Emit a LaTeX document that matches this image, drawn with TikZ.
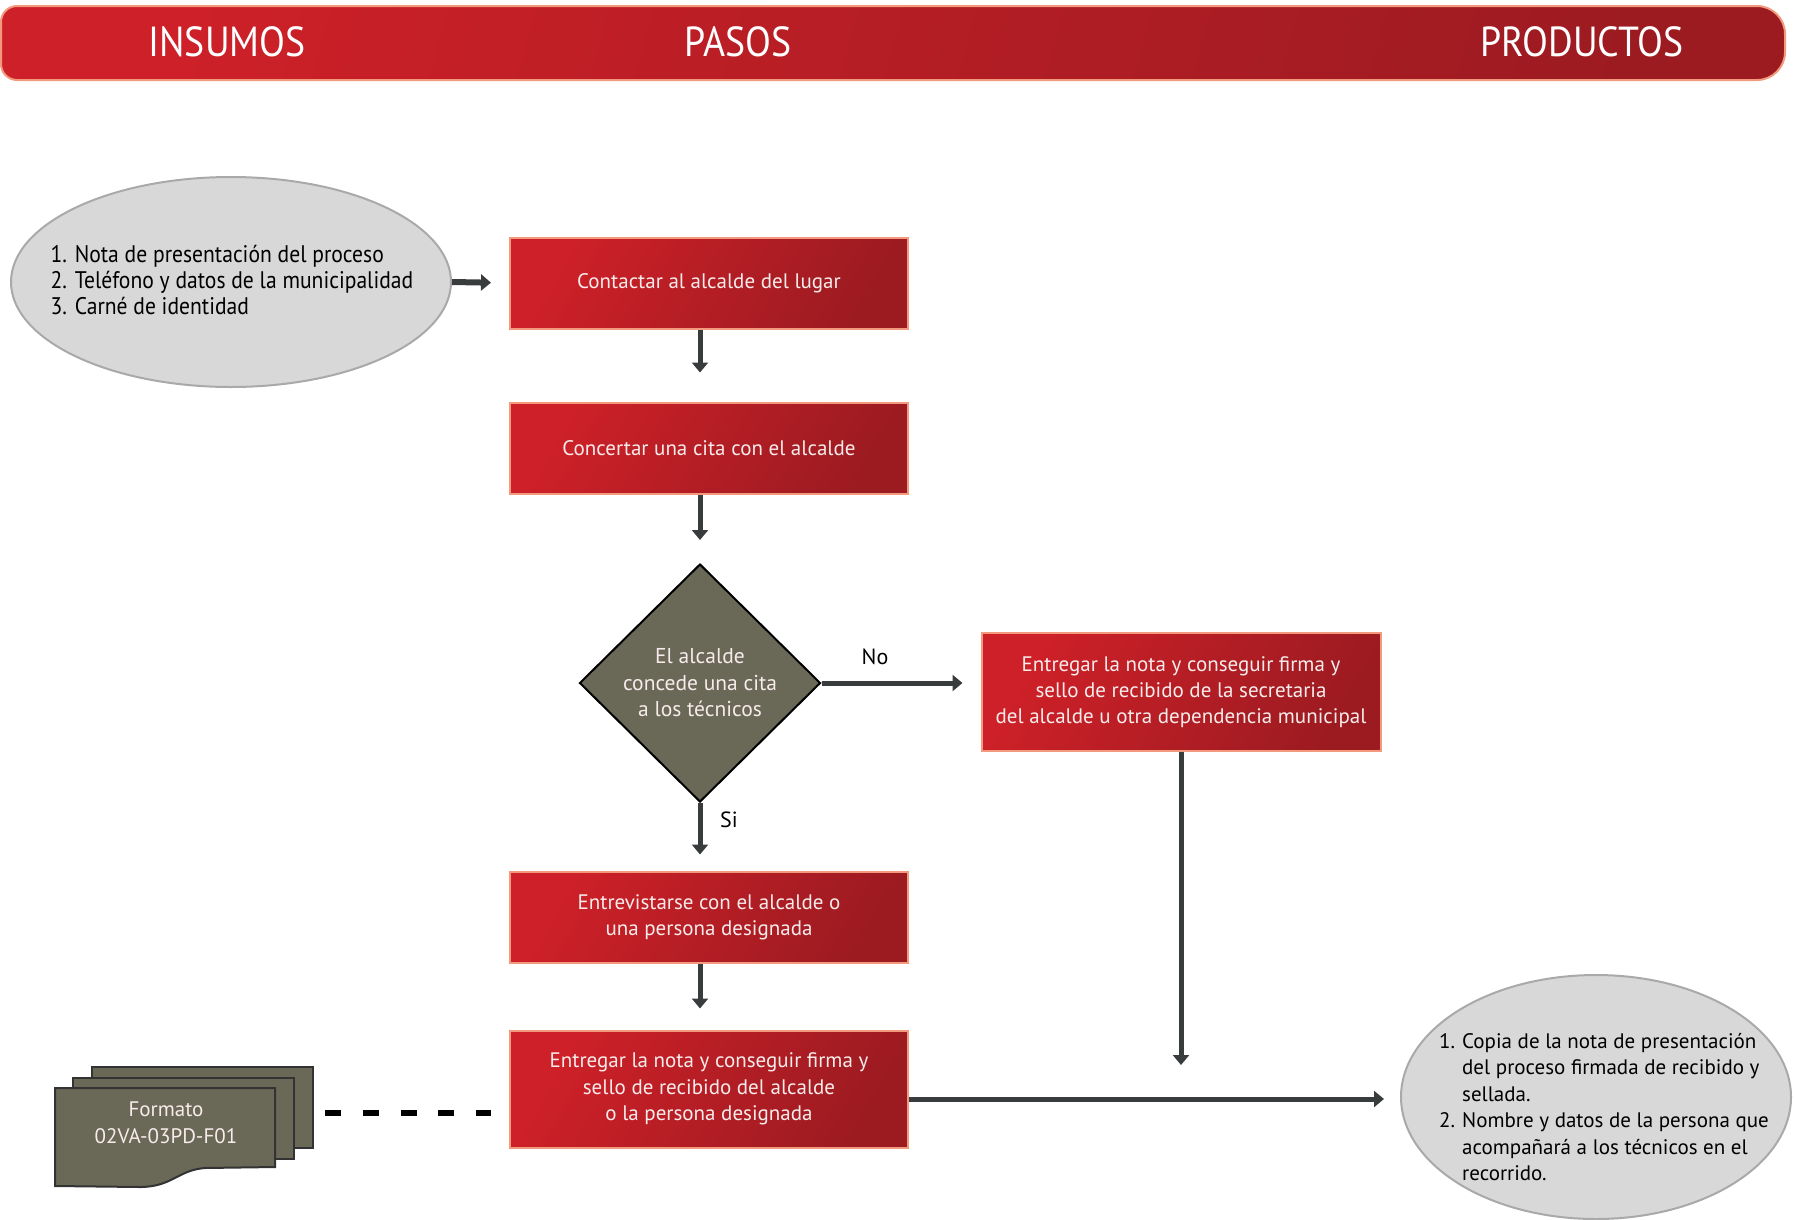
\documentclass[tikz,border=0pt]{standalone}
\usepackage{fontspec}
\setmainfont{PT Sans}
\newfontfamily\headfont[FakeStretch=0.90]{PT Sans}
\newfontfamily\listfont[FakeStretch=0.90]{PT Sans}
\usetikzlibrary{shapes.geometric,arrows.meta}
\definecolor{redA}{HTML}{CE2028}
\definecolor{redB}{HTML}{9C1B21}
\definecolor{boxline}{HTML}{F39A7E}
\definecolor{arrowc}{HTML}{393C3D}
\definecolor{olive}{HTML}{6A6857}
\definecolor{ellfill}{HTML}{D8D8D8}
\definecolor{ellline}{HTML}{A9A9A9}
\definecolor{boxtext}{HTML}{F7ECEB}
\tikzset{
  redbox/.style={draw=boxline, line width=2pt, left color=redA, right color=redB,
    shading angle=60, minimum width=398pt, text=boxtext, align=center,
    font=\fontsize{21}{26.3}\selectfont, inner sep=0pt},
  graybubble/.style={ellipse, draw=ellline, line width=2pt, fill=ellfill, inner sep=0pt},
  decision/.style={diamond, draw=black, line width=2pt, fill=olive, inner sep=0pt,
    minimum width=241pt, minimum height=238pt, text=boxtext, align=center,
    font=\fontsize{21.5}{26.5}\selectfont},
  arr/.style={draw=arrowc, line width=5pt, -{Triangle[width=16pt,length=10pt]}},
  headtext/.style={text=white, font=\headfont\fontsize{42}{44}\selectfont},
  label/.style={font=\fontsize{22}{24}\selectfont, text=black},
  sheet/.style={draw=black!80, line width=2pt, fill=olive},
  dashline/.style={draw=black, line width=6pt, dash pattern=on 16pt off 21.75pt}
}
\begin{document}
\begin{tikzpicture}[x=1pt, y=-1pt]
\useasboundingbox (0,0) rectangle (1794,1219);

% header band
\path[draw=boxline, line width=2pt, left color=redA, right color=redB, shading angle=75]
  (1,43) [rounded corners=16pt] -- (1,6) -- (893,6) [rounded corners=28pt] -- (1785,6)
  -- (1785,80) -- (893,80) [rounded corners=16pt] -- (1,80) -- cycle;
\node[headtext] (hIns) at (227,42) {INSUMOS};
\node[headtext] (hPas) at (738,42) {PASOS};
\node[headtext] (hProd) at (1582,42) {PRODUCTOS};

% inputs
\node[graybubble, minimum width=440pt, minimum height=210pt] (inL) at (231,282) {};
\node[align=left, font=\listfont\fontsize{24}{26.3}\selectfont] (inLtext) at (232,280)
  {1. Nota de presentación del proceso\\2. Teléfono y datos de la municipalidad\\3. Carné de identidad};

% process steps
\node[redbox, minimum height=91pt] (b1) at (709,283) {Contactar al alcalde del lugar};
\node[redbox, minimum height=91pt] (b2) at (709,448) {Concertar una cita con el alcalde};
\node[decision] (dia) at (700,683) {El alcalde\\concede una cita\\a los técnicos};
\node[redbox, minimum width=399pt, minimum height=118pt] (b3) at (1181,692)
  {Entregar la nota y conseguir firma y\\sello de recibido de la secretaria\\del alcalde u otra dependencia municipal};
\node[redbox, minimum height=91pt] (b4) at (709,917) {Entrevistarse con el alcalde o\\una persona designada};
\node[redbox, minimum height=117pt] (b5) at (709,1089)
  {Entregar la nota y conseguir firma y\\sello de recibido del alcalde\\o la persona designada};

% outputs
\node[graybubble, minimum width=390pt, minimum height=244pt] (outR) at (1596,1097) {};
\node[align=left, font=\fontsize{21}{26.4}\selectfont] (outRtext) at (1604,1107)
  {\makebox[23pt][l]{1.}Copia de la nota de presentación\\
   \hspace*{23pt}del proceso firmada de recibido y\\
   \hspace*{23pt}sellada.\\
   \makebox[23pt][l]{2.}Nombre y datos de la persona que\\
   \hspace*{23pt}acompañará a los técnicos en el\\
   \hspace*{23pt}recorrido.};

% form documents
\draw[sheet] (92,1067) rectangle (313,1148);
\draw[sheet] (73,1078) rectangle (294,1159);
\draw[sheet] (55,1088) -- (275,1088) -- (275,1167) -- (205,1168)
  .. controls (178,1170) and (172,1187) .. (140,1187) -- (55,1186) -- cycle;
\node[text=boxtext, align=center, font=\fontsize{21}{27}\selectfont] (doc) at (166,1123)
  {Formato\\02VA-03PD-F01};
\coordinate (docR) at (325,1113);

% connectors
\draw[arr, line width=6pt, shorten >=18pt] (inL.east) -- (b1.west);
\draw[arr, shorten >=29pt] (b1.south -| dia.north) -- (b2.north -| dia.north);
\draw[arr, shorten >=23pt] (b2.south -| dia.north) -- (dia.north);
\draw[arr, shorten >=18pt] (dia.east) -- (dia.east -| b3.west);
\node[label] (lblNo) at (875,657) {No};
\draw[arr, shorten >=16pt] (dia.south) -- (b4.north -| dia.south);
\node[label] (lblSi) at (729,820) {Si};
\draw[arr, shorten >=21pt] (b4.south -| dia.south) -- (b5.north -| dia.south);
\draw[arr, shorten >=34pt] (b3.south) -- ([yshift=-2pt]b3.south |- outR.west);
\draw[arr, shorten >=16pt] ([yshift=-2pt]b5.east |- outR.west) -- ([yshift=-2pt]outR.west);
\draw[dashline] (docR) -- ([xshift=-18pt]docR -| b5.west);
\end{tikzpicture}
\end{document}
